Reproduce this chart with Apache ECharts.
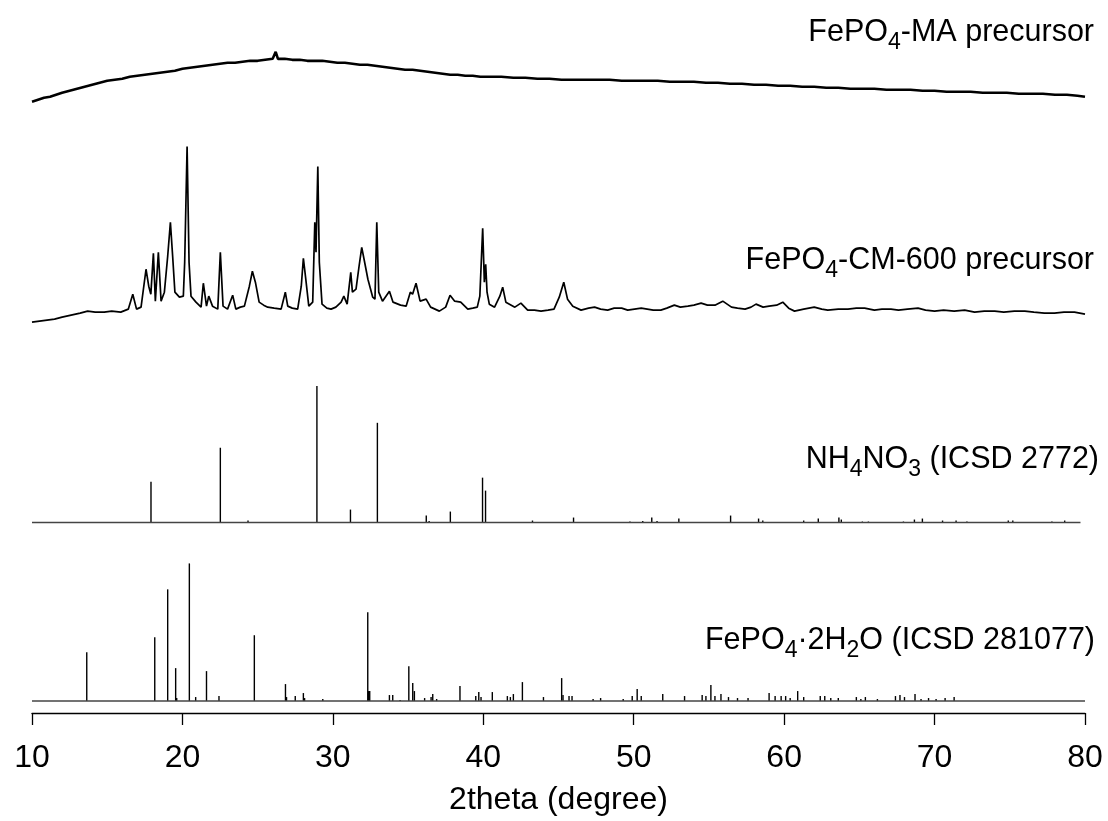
<!DOCTYPE html>
<html>
<head>
<meta charset="utf-8">
<script src="https://cdn.jsdelivr.net/npm/echarts@6/dist/echarts.min.js"></script>
<style>
html,body{margin:0;padding:0;background:#fff;}
#chart{width:1108px;height:821px;}
</style>
</head>
<body>
<div id="chart"></div>
<script>
// ---- data (2theta in degree, intensity in arbitrary units) ----
var xTicks = [10, 20, 30, 40, 50, 60, 70, 80];
var labels = ['FePO4-MA precursor', 'FePO4-CM-600 precursor', 'NH4NO3 (ICSD 2772)', 'FePO4·2H2O (ICSD 281077)'];

var maPattern = [[10.0,18],[10.4,20],[10.8,22],[11.2,23],[11.6,25],[12.0,27],[12.5,29],[13.0,31],[13.5,33],[14.0,35],[14.5,37],[15.0,39],[15.5,40],[16.0,41],[16.5,43],[17.0,44],[17.5,45],[18.0,46],[18.5,47],[19.0,48],[19.5,49],[20.0,51],[20.5,52],[21.0,53],[21.5,54],[22.0,55],[22.5,56],[23.0,57],[23.5,57],[24.0,58],[24.5,59],[25.0,59],[25.5,60],[26.0,61],[26.2,68],[26.35,61],[26.8,61],[27.3,60],[27.8,60],[28.3,59],[28.8,59],[29.3,59],[29.8,58],[30.3,57],[30.8,57],[31.3,56],[31.8,55],[32.3,55],[32.8,54],[33.3,53],[33.8,52],[34.3,51],[34.8,50],[35.3,50],[35.8,49],[36.3,48],[36.8,47],[37.3,46],[37.8,45],[38.3,45],[38.8,44],[39.3,44],[39.8,43],[40.5,43],[41.2,43],[42.0,42],[42.8,42],[43.6,41],[44.4,41],[45.2,40],[46.0,40],[46.8,40],[47.6,40],[48.4,40],[49.2,39],[50.0,39],[50.8,39],[51.6,39],[52.4,38],[53.2,38],[54.0,38],[54.8,37],[55.6,37],[56.4,36],[57.2,36],[58.0,35],[58.8,35],[59.6,34],[60.4,34],[61.2,33],[62.0,33],[62.8,32],[63.6,32],[64.4,31],[65.2,31],[66.0,31],[66.8,30],[67.6,30],[68.4,30],[69.2,29],[70.0,29],[70.8,28],[71.6,28],[72.4,28],[73.2,27],[74.0,27],[74.8,27],[75.6,26],[76.4,26],[77.2,26],[78.0,25],[78.8,25],[79.5,24],[80.0,23]];

var cmPattern = [[10.0,7],[10.5,8],[11.0,9],[11.5,10],[12.0,12],[12.6,14],[13.2,16],[13.7,18],[14.2,17],[14.8,17],[15.3,18],[15.9,17],[16.4,20],[16.7,35],[16.95,20],[17.25,22],[17.58,60],[17.76,43],[17.9,35],[18.07,76],[18.2,28],[18.4,77],[18.58,28],[18.8,37],[19.02,73],[19.2,107],[19.35,73],[19.5,37],[19.8,32],[20.06,33],[20.15,67],[20.31,183],[20.44,67],[20.57,33],[20.9,27],[21.24,22],[21.39,46],[21.6,23],[21.75,33],[22.0,23],[22.35,20],[22.52,77],[22.7,23],[23.0,20],[23.34,34],[23.55,20],[23.85,22],[24.12,23],[24.45,43],[24.65,58],[24.85,47],[25.1,27],[25.4,24],[25.67,22],[26.1,21],[26.56,20],[26.84,37],[27.0,23],[27.3,21],[27.66,20],[27.9,43],[28.04,71],[28.2,50],[28.4,23],[28.66,27],[28.8,107],[28.88,77],[29.0,163],[29.1,67],[29.28,25],[29.6,21],[29.88,20],[30.2,22],[30.55,27],[30.73,33],[30.95,25],[31.19,57],[31.3,37],[31.54,40],[31.76,65],[31.92,82],[32.1,68],[32.33,50],[32.65,32],[32.8,30],[32.92,107],[33.05,37],[33.3,28],[33.76,38],[34.0,27],[34.5,24],[34.87,23],[35.15,37],[35.3,35],[35.53,46],[35.8,28],[36.2,30],[36.5,22],[37.08,18],[37.5,22],[37.79,34],[38.1,28],[38.5,27],[38.97,20],[39.3,21],[39.6,22],[39.77,33],[39.96,101],[40.07,47],[40.16,65],[40.25,37],[40.4,25],[40.75,22],[41.1,33],[41.29,42],[41.5,27],[42.1,22],[42.5,26],[42.95,19],[43.4,19],[43.84,18],[44.3,19],[44.7,20],[45.05,32],[45.35,47],[45.6,30],[45.95,23],[46.5,19],[47.0,21],[47.4,22],[47.8,20],[48.27,19],[48.7,21],[49.2,21],[49.6,19],[50.05,20],[50.5,21],[50.9,20],[51.3,19],[51.8,19],[52.2,21],[52.7,24],[53.1,22],[53.6,23],[54.0,24],[54.48,26],[54.9,24],[55.4,24],[55.92,28],[56.5,22],[56.9,21],[57.4,20],[57.8,22],[58.13,25],[58.6,22],[59.0,23],[59.5,24],[59.91,27],[60.3,21],[60.69,18],[61.3,20],[62.0,22],[62.5,20],[62.9,19],[63.6,20],[64.24,20],[64.8,21],[65.35,21],[66.0,19],[66.5,20],[67.1,20],[67.6,19],[68.2,20],[68.9,21],[69.4,19],[70.0,18],[70.6,19],[71.3,18],[72.0,19],[72.66,17],[73.3,18],[74.0,18],[74.6,17],[75.3,18],[76.0,18],[76.6,17],[77.3,16],[77.97,16],[78.6,17],[79.3,17],[80.0,15]];

var nh4no3Sticks = [[17.91,41],[22.52,75],[24.36,2],[28.94,137],[31.17,13],[32.96,100],[36.21,7],[36.4,1.5],[37.81,11],[39.95,45],[40.15,32],[43.27,2],[46.0,5],[49.75,1],[50.6,1.5],[51.2,5],[51.55,1.5],[53.0,4],[56.44,7],[58.3,4],[58.58,2],[61.3,2],[62.27,4],[63.64,5],[63.8,3],[65.2,1],[65.6,1],[67.93,1],[68.66,3],[69.19,4],[70.53,2],[71.43,2],[72.15,1],[74.9,2],[75.2,2],[77.8,1],[78.65,2]];
var nh4no3Range = [10, 79.7];

var fepo4Sticks = [[13.64,49],[18.16,64],[19.02,112],[19.55,33],[19.62,3],[20.46,138],[20.88,4],[21.6,30],[22.43,5],[24.78,66],[26.85,17],[26.92,4],[27.5,5],[28.04,8],[28.12,3],[29.33,2],[32.32,89],[32.38,10],[32.45,10],[33.76,6],[33.98,6],[34.47,1],[35.05,35],[35.31,18],[35.42,10],[36.1,3],[36.53,4],[36.64,7],[36.9,2],[38.45,15],[39.5,5],[39.7,9],[39.85,4],[40.6,9],[41.6,5],[41.8,4],[42.0,7],[42.6,19],[44.0,4],[45.21,23],[45.3,6],[45.7,5],[45.9,5],[47.3,2],[47.8,3],[49.3,2],[49.9,5],[50.23,12],[50.5,5],[51.93,7],[53.38,5],[54.55,6],[54.8,5],[55.13,16],[55.4,5],[55.8,7],[56.3,4],[56.9,3],[57.6,3],[59.0,8],[59.4,5],[59.8,5],[60.1,5],[60.4,3],[60.9,10],[61.3,4],[62.4,5],[62.7,5],[63.1,3],[63.6,3],[64.8,4],[65.1,2],[65.4,4],[66.2,2],[67.4,5],[67.7,6],[68.0,4],[68.7,7],[69.1,2],[69.6,3],[70.1,2],[70.7,3],[71.3,4]];
var fepo4Range = [10, 80];

// ---- layout / style ----
var FONT = '"Liberation Sans", Arial, Helvetica, sans-serif';
var offsets = { ma: 595, cm: 385, nh4: 191, fepo4: 12 };

function shift(arr, off) { return arr.map(function (p) { return [p[0], p[1] + off]; }); }

function stickSeries(sticks, off) {
  return {
    type: 'custom',
    silent: true,
    data: sticks,
    renderItem: function (params, api) {
      var x = api.value(0), h = api.value(1);
      var p0 = api.coord([x, off]);
      var p1 = api.coord([x, off + h]);
      return {
        type: 'line',
        shape: { x1: p0[0], y1: p0[1], x2: p1[0], y2: p1[1] },
        style: { stroke: '#000', lineWidth: 1.4 }
      };
    }
  };
}
function baseSeries(range, off) {
  return {
    type: 'line', silent: true, symbol: 'none',
    data: [[range[0], off], [range[1], off]],
    lineStyle: { color: '#444', width: 1.5 }
  };
}
function richLabel(parts, y, right) {
  var txt = parts.map(function (p) { return '{' + p[0] + '|' + p[1] + '}'; }).join('');
  return {
    type: 'text', right: right, top: y - 13, silent: true,
    style: {
      text: txt, align: 'right', verticalAlign: 'top', fill: '#000',
      rich: {
        m: { fontSize: 30.5, lineHeight: 44, fontFamily: FONT, fill: '#000' },
        s: { fontSize: 23, lineHeight: 20, verticalAlign: 'bottom', fontFamily: FONT, fill: '#000' }
      }
    }
  };
}

var chart = echarts.init(document.getElementById('chart'), null, { renderer: 'canvas' });
chart.setOption({
  animation: false,
  backgroundColor: '#fff',
  grid: { left: 32, right: 23, top: 0, bottom: 106, containLabel: false },
  xAxis: {
    type: 'value', min: xTicks[0], max: xTicks[xTicks.length - 1], interval: 10,
    name: '2theta (degree)', nameLocation: 'middle', nameGap: 71,
    nameTextStyle: { fontSize: 32, fontFamily: FONT, color: '#000' },
    axisLine: { show: true, onZero: false, lineStyle: { color: '#000', width: 1.3 } },
    axisTick: { show: true, inside: false, length: 12, lineStyle: { color: '#000', width: 1.3 } },
    axisLabel: { fontSize: 32, fontFamily: FONT, color: '#000', margin: 29 },
    splitLine: { show: false }
  },
  yAxis: { type: 'value', min: 0, max: 715, show: false, splitLine: { show: false } },
  series: [
    { type: 'line', silent: true, symbol: 'none', data: shift(maPattern, offsets.ma), lineStyle: { color: '#000', width: 2.6 } },
    { type: 'line', silent: true, symbol: 'none', data: shift(cmPattern, offsets.cm), lineStyle: { color: '#000', width: 1.7 } },
    baseSeries(nh4no3Range, offsets.nh4),
    stickSeries(nh4no3Sticks, offsets.nh4),
    baseSeries(fepo4Range, offsets.fepo4),
    stickSeries(fepo4Sticks, offsets.fepo4)
  ],
  graphic: [
    richLabel([['m', 'FePO'], ['s', '4'], ['m', '-MA precursor']], 30, 14),
    richLabel([['m', 'FePO'], ['s', '4'], ['m', '-CM-600 precursor']], 258, 14),
    richLabel([['m', 'NH'], ['s', '4'], ['m', 'NO'], ['s', '3'], ['m', ' (ICSD 2772)']], 457, 9),
    richLabel([['m', 'FePO'], ['s', '4'], ['m', '·2H'], ['s', '2'], ['m', 'O (ICSD 281077)']], 638, 13)
  ]
});
</script>
</body>
</html>
